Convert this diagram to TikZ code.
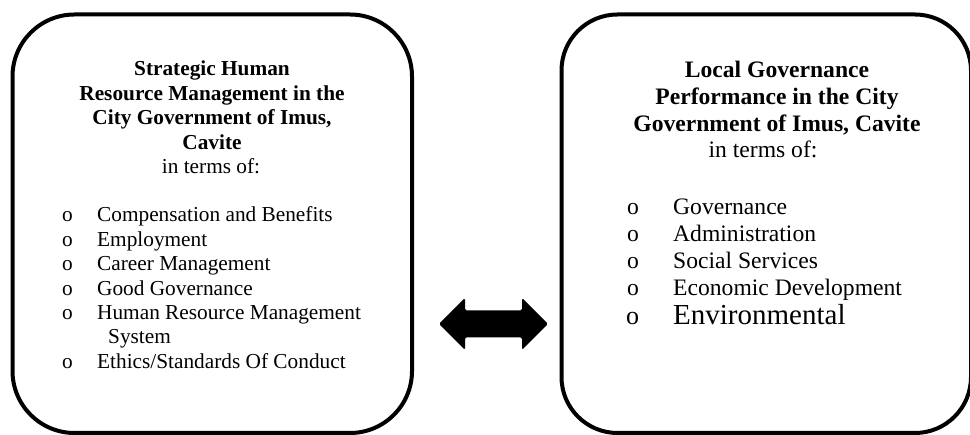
\documentclass[tikz,border=0pt]{standalone}
\usepackage{fontspec}
\setmainfont{Liberation Serif}

\tikzset{
  panel/.style={draw, line width=4pt, inner sep=0pt, minimum height=418.5pt},
  ltitle/.style={anchor=base, inner sep=0pt, font=\fontsize{21.3}{24.4}\selectfont\bfseries},
  ltext/.style={anchor=base west, inner sep=0pt, font=\fontsize{21.3}{24.4}\selectfont},
  rtitle/.style={anchor=base, inner sep=0pt, font=\fontsize{23.6}{27}\selectfont\bfseries},
  rtext/.style={anchor=base west, inner sep=0pt, font=\fontsize{23.6}{27}\selectfont},
}

\begin{document}
\begin{tikzpicture}[x=1pt,y=1pt]
%\draw [help lines,black!20!white] (0,0) grid[step=50] (970,435);
\useasboundingbox (0,0) rectangle (970,435);

\node[panel, rounded corners=62pt, minimum width=399.5pt] (srhm) at (212.25,211.25) {};
\node[panel, rounded corners=56pt, minimum width=409.5pt] (lgp) at (766.25,211.25) {};

% left box
\foreach \txt [count=\i] in {Strategic Human, Resource Management in the, {City Government of Imus,}, Cavite}
  \node[ltitle] (srhm-t\i) at (212,{359-24.4*(\i-1)}) {\txt};
\node[ltext, anchor=base] (srhm-terms) at (211,261.4) {in terms of:};

\foreach \i/\txt in {1/Compensation and Benefits, 2/Employment, 3/Career Management, 4/Good Governance, 5/Human Resource Management, 7/{Ethics/Standards Of Conduct}} {
  \node[ltext] (srhm-b\i) at (62,{213-24.4*(\i-1)}) {o};
  \node[ltext] (srhm-i\i) at (97,{213-24.4*(\i-1)}) {\txt};
}
\node[ltext] (srhm-i6) at (108,{213-24.4*5}) {System};

% right box
\foreach \txt [count=\i] in {Local Governance, Performance in the City, {Government of Imus, Cavite}}
  \node[rtitle] (lgp-t\i) at (777,{357-27*(\i-1)}) {\txt};
\node[rtext, anchor=base] (lgp-terms) at (763,277) {in terms of:};

\foreach \txt [count=\i] in {Governance, Administration, Social Services, Economic Development} {
  \node[rtext] (lgp-b\i) at (627,{220-27*(\i-1)}) {o};
  \node[rtext] (lgp-i\i) at (673,{220-27*(\i-1)}) {\txt};
}
\node[rtext, font=\fontsize{26}{30}\selectfont] (lgp-b5) at (626,110) {o};
\node[rtext, font=\fontsize{29}{33}\selectfont] (lgp-i5) at (673,110) {Environmental};

% two-way arrow
\coordinate (link) at (493.5,111);
\fill[rounded corners=1.5pt, shift={(link)}] (-54.5,0) -- (-28.5,26) -- (-28.5,13.5) -- (28.5,13.5)
  -- (28.5,26) -- (54.5,0) -- (28.5,-26) -- (28.5,-13.5) -- (-28.5,-13.5) -- (-28.5,-26) -- cycle;

\end{tikzpicture}
\end{document}
